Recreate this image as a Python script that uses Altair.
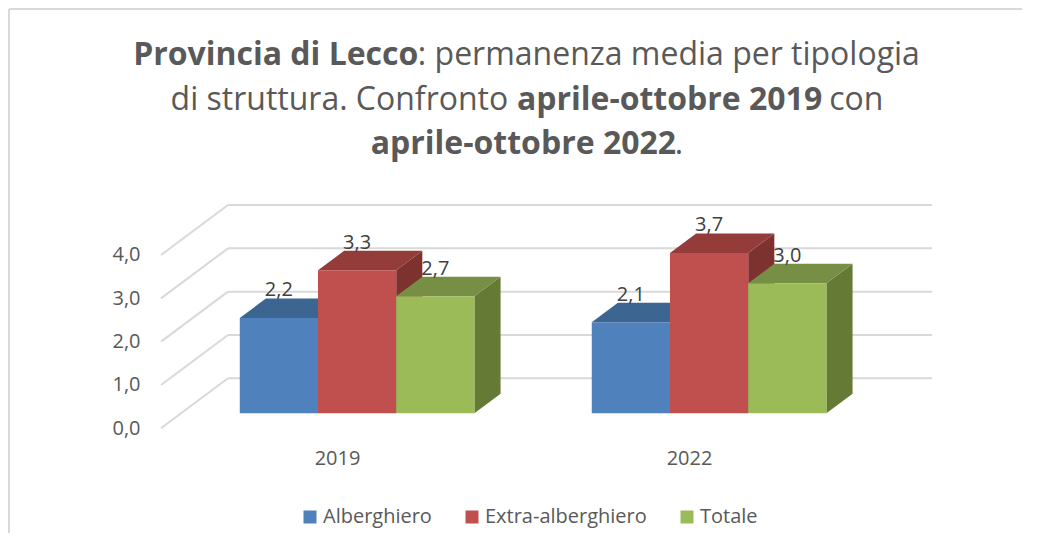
import altair as alt
import pandas as pd
import json

# ---------------- data ----------------
years = ["2019", "2022"]
series = ["Alberghiero", "Extra-alberghiero", "Totale"]
values_2019 = [2.2, 3.3, 2.7]
values_2022 = [2.1, 3.7, 3.0]
y_ticks = [0, 1, 2, 3, 4]

front_colors = ["#4F81BD", "#C0504D", "#9BBB59"]
top_colors = ["#3D6592", "#943C3A", "#778F44"]
side_colors = ["#34557E", "#7D3230", "#647A35"]

title_lines = [
    [("Provincia di Lecco", True), (": permanenza media per tipologia", False)],
    [("di struttura. Confronto ", False), ("aprile-ottobre 2019", True), (" con", False)],
    [("aprile-ottobre 2022", True), (".", False)],
]

# ---------------- 3D projection geometry ----------------
SLOT_PX = 352.0          # width of one category slot in px (front plane)
PX_PER_UNIT = 43.33      # px per value unit
DEPTH_PX_X = 67.0        # px shift of full depth
DEPTH_PX_Y = 50.0
DEPTH_X = DEPTH_PX_X / SLOT_PX
DEPTH_Y = DEPTH_PX_Y / PX_PER_UNIT
X_MAX = len(years) + DEPTH_X
Y_MAX = max(y_ticks) + DEPTH_Y
PLOT_W = SLOT_PX * X_MAX
PLOT_H = PX_PER_UNIT * Y_MAX
PAD_L, PAD_T, PAD_R, PAD_B = 153, 197, 90, 105
ORIGIN_X, ORIGIN_Y = 8 + PAD_L, 8 + PAD_T   # page position of plot origin

GAP = 1.5
BAR_W = 1.0 / (len(series) + GAP)
Z0, Z1 = 0.30, 0.69


def proj_x(xu, z):
    return xu + DEPTH_X * z


def proj_y(v, z):
    return v + DEPTH_Y * z


vals = {"2019": values_2019, "2022": values_2022}
rows_front, rows_top, rows_side, rows_lab = [], [], [], []
for i, yr in enumerate(years):
    for j, s in enumerate(series):
        v = vals[yr][j]
        xl = i + GAP / 2 * BAR_W + j * BAR_W
        xr = xl + BAR_W
        bid = f"{yr}-{s}"
        rows_front.append(dict(series=s, x=proj_x(xl, Z0), x2=proj_x(xr, Z0),
                               y=proj_y(0, Z0), y2=proj_y(v, Z0)))
        for z in (Z0, Z1):
            rows_top.append(dict(bar=bid, fillc=top_colors[j], y=proj_y(v, z),
                                 x=proj_x(xl, z), x2=proj_x(xr, z)))
            rows_side.append(dict(bar=bid, fillc=side_colors[j], x=proj_x(xr, z),
                                  y=proj_y(0, z), y2=proj_y(v, z)))
        rows_lab.append(dict(x=proj_x((xl + xr) / 2, Z0), y=proj_y(v, Z1),
                             label=f"{v:.1f}".replace(".", ",")))

grid_rows = []
for t in y_ticks:
    # back wall line
    grid_rows.append(dict(x=proj_x(0, 1), x2=proj_x(len(years), 1), y=proj_y(t, 1), y2=proj_y(t, 1)))
    # left wall diagonal
    grid_rows.append(dict(x=proj_x(0, 0), x2=proj_x(0, 1), y=proj_y(t, 0), y2=proj_y(t, 1)))

df_front = pd.DataFrame(rows_front)
df_top = pd.DataFrame(rows_top)
df_side = pd.DataFrame(rows_side)
df_lab = pd.DataFrame(rows_lab)
df_grid = pd.DataFrame(grid_rows)

FONT = "Open Sans"
TXT = "#595959"

XS = alt.Scale(domain=[0, X_MAX], nice=False, zero=False)
YS = alt.Scale(domain=[0, Y_MAX], nice=False, zero=False)
X_AX = alt.Axis(values=[i + 0.5 for i in range(len(years))],
                labelExpr=f"{json.dumps(years)}[round(datum.value - 0.5)]",
                grid=False, domain=False, ticks=False, labelPadding=20,
                labelFontSize=20, labelColor=TXT, labelFont=FONT, title=None,
                labelFlush=False)
Y_AX = alt.Axis(values=y_ticks,
                labelExpr="replace(format(datum.value, '.1f'), '.', ',')",
                grid=False, domain=False, ticks=False, labelPadding=21,
                labelFontSize=20, labelColor=TXT, labelFont=FONT, title=None,
                labelFlush=False)

grid = alt.Chart(df_grid).mark_rule(color="#D9D9D9", strokeWidth=2).encode(
    x=alt.X("x:Q", scale=XS, axis=X_AX), x2="x2:Q",
    y=alt.Y("y:Q", scale=YS, axis=Y_AX), y2="y2:Q",
)

sides = alt.Chart(df_side).mark_area(orient="vertical").encode(
    x=alt.X("x:Q", scale=XS, axis=X_AX, stack=None),
    y=alt.Y("y:Q", scale=YS, axis=Y_AX, stack=None), y2="y2:Q",
    detail="bar:N",
    fill=alt.Fill("fillc:N", scale=None),
)

tops = alt.Chart(df_top).mark_area(orient="horizontal").encode(
    y=alt.Y("y:Q", scale=YS, axis=Y_AX, stack=None),
    x=alt.X("x:Q", scale=XS, axis=X_AX, stack=None), x2="x2:Q",
    detail="bar:N",
    fill=alt.Fill("fillc:N", scale=None),
)

fronts = alt.Chart(df_front).mark_rect().encode(
    x=alt.X("x:Q", scale=XS, axis=X_AX), x2="x2:Q",
    y=alt.Y("y:Q", scale=YS, axis=Y_AX), y2="y2:Q",
    color=alt.Color("series:N", sort=series,
                    scale=alt.Scale(domain=series, range=front_colors),
                    legend=alt.Legend(orient="none", legendX=300 - ORIGIN_X,
                                      legendY=507 - ORIGIN_Y,
                                      direction="horizontal", columns=3,
                                      title=None, symbolType="square",
                                      symbolSize=169, symbolStrokeWidth=0,
                                      labelFontSize=20, labelFont=FONT,
                                      labelColor=TXT, columnPadding=30,
                                      labelOffset=3, labelLimit=400, padding=0)),
)

labels = alt.Chart(df_lab).mark_text(dy=-8, baseline="middle", fontSize=20,
                                     font=FONT, color="#404040").encode(
    x=alt.X("x:Q", scale=XS, axis=X_AX),
    y=alt.Y("y:Q", scale=YS, axis=Y_AX),
    text="label:N",
)

# ---------------- title (mixed bold / regular) ----------------
REG = {' ': .26, '.': .266, ',': .244, ':': .266, '-': .322, 'C': .633, 'L': .533,
       'P': .619, 'a': .556, 'b': .613, 'c': .476, 'd': .613, 'e': .561, 'f': .339,
       'g': .548, 'h': .614, 'i': .253, 'l': .253, 'm': .93, 'n': .614, 'o': .604,
       'p': .613, 'r': .408, 's': .477, 't': .353, 'u': .614, 'v': .501, 'z': .468}
BOLD = {' ': .26, '.': .285, ':': .285, '-': .322, 'L': .556, 'P': .665, 'a': .618,
        'b': .645, 'c': .512, 'd': .645, 'e': .602, 'i': .302, 'l': .302, 'n': .665,
        'o': .635, 'p': .645, 'r': .461, 't': .433, 'v': .59}
for dgt in "0123456789":
    REG[dgt] = .572
    BOLD[dgt] = .572
BOLD_FACTOR = 0.985

TITLE_SIZE = 32
CENTER_X = 527
BASELINES = [65, 110, 154.5]


def seg_width(s, bold):
    if bold:
        return sum(BOLD.get(ch, .58) for ch in s) * TITLE_SIZE * BOLD_FACTOR
    return sum(REG.get(ch, .56) for ch in s) * TITLE_SIZE


title_layers = []
for line, base in zip(title_lines, BASELINES):
    total = sum(seg_width(s, b) for s, b in line)
    cur = CENTER_X - total / 2
    for s, b in line:
        lead = len(s) - len(s.lstrip(" "))
        start = cur + seg_width(" " * lead, False)
        txt = s.strip(" ")
        title_layers.append(
            alt.Chart(pd.DataFrame({"t": [txt]})).mark_text(
                align="left", baseline="alphabetic", fontSize=TITLE_SIZE, font=FONT,
                fontWeight="bold" if b else "normal", color=TXT,
                x=start - ORIGIN_X, y=base - ORIGIN_Y,
            ).encode(text="t:N")
        )
        cur += seg_width(s, b)

border_df = pd.DataFrame({"k": [0]})
border_top = alt.Chart(border_df).mark_rule(color="#D9D9D9", strokeWidth=2).encode(
    x=alt.value(1 - PAD_L), x2=alt.value(PLOT_W + PAD_R),
    y=alt.value(1 - PAD_T), y2=alt.value(1 - PAD_T))
border_left = alt.Chart(border_df).mark_rule(color="#D9D9D9", strokeWidth=2).encode(
    x=alt.value(1 - PAD_L), x2=alt.value(1 - PAD_L),
    y=alt.value(1 - PAD_T), y2=alt.value(PLOT_H + PAD_B))

chart = alt.layer(
    grid, sides, tops, fronts, labels, *title_layers, border_top, border_left
).properties(
    width=PLOT_W, height=PLOT_H,
    padding={"left": PAD_L, "top": PAD_T, "right": PAD_R, "bottom": PAD_B},
    autosize=alt.AutoSizeParams(type="none"),
    background="white",
).configure_view(stroke=None)

chart.save("out.html", embed_options={"renderer": "svg", "actions": False})
